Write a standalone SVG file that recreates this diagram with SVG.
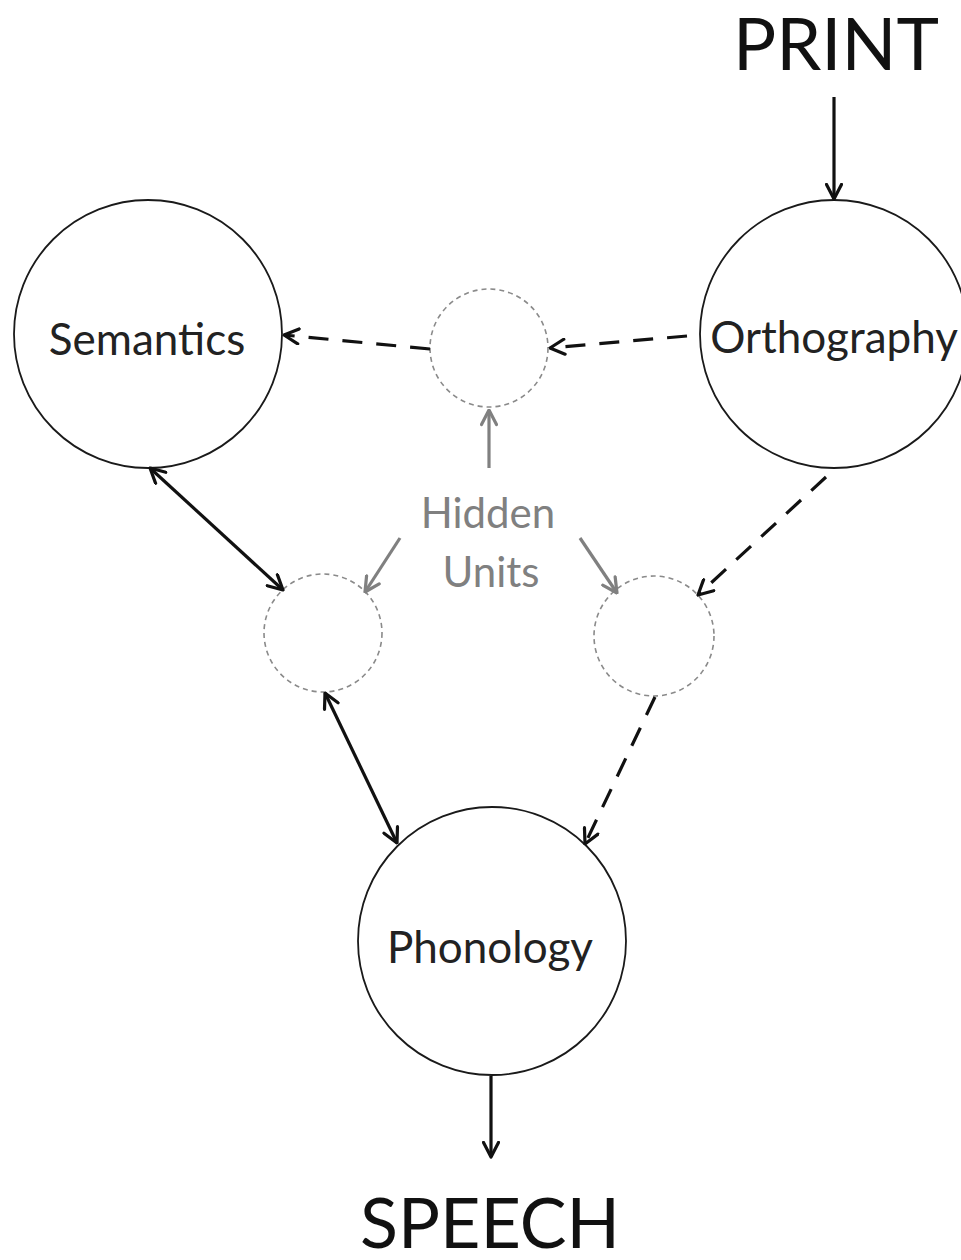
<svg xmlns="http://www.w3.org/2000/svg" width="961" height="1260" viewBox="0 0 961 1260">
  <style>
    .node { fill: #ffffff; stroke: #1a1a1a; stroke-width: 1.8; }
    .hidden { fill: none; stroke: #8a8a8a; stroke-width: 1.6; stroke-dasharray: 5 4; }
    .lbl { font-family: Lato, "Open Sans", "Liberation Sans", sans-serif; fill: #222222; text-anchor: middle; }
    .big { font-family: Lato, "Open Sans", "Liberation Sans", sans-serif; fill: #111111; text-anchor: middle; }
    .gtxt { font-family: Lato, "Open Sans", "Liberation Sans", sans-serif; fill: #808080; text-anchor: middle; }
    .solid { fill: none; stroke: #111111; stroke-width: 3.2; }
    .dash { fill: none; stroke: #111111; stroke-width: 3.2; stroke-dasharray: 20 14; }
    .gray { fill: none; stroke: #808080; stroke-width: 3.2; }
  </style>
  <defs>
    <marker id="ah" viewBox="0 0 18 18" refX="16.5" refY="9" markerWidth="18" markerHeight="18" markerUnits="userSpaceOnUse" orient="auto-start-reverse">
      <path d="M2,1.5 L16.5,9 L2,16.5" fill="none" stroke="#111111" stroke-width="3.2" stroke-dasharray="none" stroke-linecap="round" stroke-linejoin="round"/>
    </marker>
    <marker id="ahg" viewBox="0 0 18 18" refX="16.5" refY="9" markerWidth="18" markerHeight="18" markerUnits="userSpaceOnUse" orient="auto">
      <path d="M2,1.5 L16.5,9 L2,16.5" fill="none" stroke="#808080" stroke-width="3.2" stroke-dasharray="none" stroke-linecap="round" stroke-linejoin="round"/>
    </marker>
  </defs>

  <g id="nodes">
    <g id="semantics">
      <circle class="node" cx="148" cy="334" r="134"/>
      <text class="lbl" x="147" y="355" font-size="44">Semantics</text>
    </g>
    <g id="orthography">
      <circle class="node" cx="834" cy="334" r="134"/>
      <text class="lbl" x="834" y="353" font-size="44">Orthography</text>
    </g>
    <g id="phonology">
      <circle class="node" cx="492" cy="941" r="134"/>
      <text class="lbl" x="490" y="963" font-size="44">Phonology</text>
    </g>
    <g id="hidden-top">
      <circle class="hidden" cx="489" cy="348" r="59"/>
    </g>
    <g id="hidden-left">
      <circle class="hidden" cx="323" cy="633" r="59"/>
    </g>
    <g id="hidden-right">
      <circle class="hidden" cx="654" cy="636" r="60"/>
    </g>
    <g id="hidden-label">
      <text class="gtxt" x="488" y="528" font-size="42">Hidden</text>
      <text class="gtxt" x="491" y="587" font-size="42">Units</text>
    </g>
    <g id="print">
      <text class="big" x="836" y="70" font-size="72">PRINT</text>
    </g>
    <g id="speech">
      <text class="big" x="490" y="1248" font-size="70">SPEECH</text>
    </g>
  </g>

  <g id="connectors">
    <line class="solid" x1="834" y1="97" x2="834" y2="199" marker-end="url(#ah)"/>
    <line class="solid" x1="491" y1="1076" x2="491" y2="1157" marker-end="url(#ah)"/>
    <line class="dash" x1="687" y1="336" x2="550" y2="348" marker-end="url(#ah)"/>
    <line class="dash" x1="430" y1="349" x2="284" y2="335" marker-end="url(#ah)"/>
    <line class="dash" x1="826" y1="477" x2="698" y2="595" marker-end="url(#ah)"/>
    <line class="dash" x1="655" y1="697" x2="585" y2="844" marker-end="url(#ah)"/>
    <line class="solid" x1="150" y1="468" x2="283" y2="590" marker-start="url(#ah)" marker-end="url(#ah)"/>
    <line class="solid" x1="325" y1="693" x2="397" y2="843" marker-start="url(#ah)" marker-end="url(#ah)"/>
    <line class="gray" x1="489" y1="468" x2="489" y2="410" marker-end="url(#ahg)"/>
    <line class="gray" x1="400" y1="538" x2="365" y2="592" marker-end="url(#ahg)"/>
    <line class="gray" x1="580" y1="538" x2="617" y2="593" marker-end="url(#ahg)"/>
  </g>
</svg>
